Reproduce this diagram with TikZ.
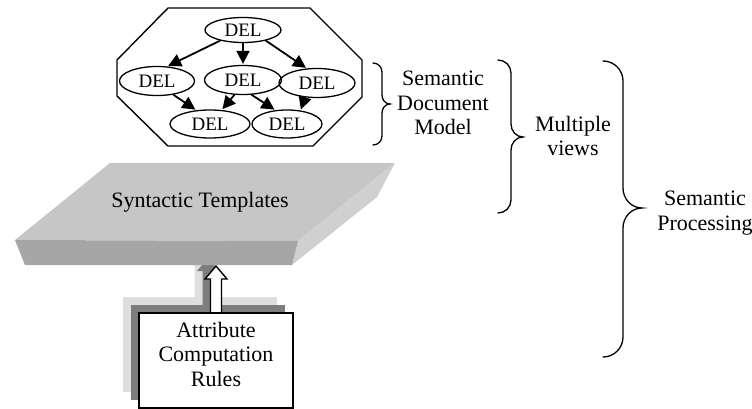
\documentclass[tikz,border=0pt]{standalone}
\usepackage{fontspec}
\setmainfont{Liberation Serif}
\usetikzlibrary{shapes.geometric,arrows.meta}
\definecolor{slabtop}{RGB}{198,198,198}
\definecolor{slabfront}{RGB}{166,166,166}
\definecolor{slabside}{RGB}{208,208,208}
\definecolor{shlight}{RGB}{222,222,222}
\definecolor{shdark}{RGB}{125,125,125}
\begin{document}
\begin{tikzpicture}[x=1pt,y=-1pt,
  del/.style={ellipse,draw,line width=1.3pt,inner sep=0pt,minimum height=29pt,font=\fontsize{19}{21}\selectfont},
  darr/.style={-{Triangle[length=13pt,width=13pt]},line width=1.8pt,shorten >=1pt,shorten <=0pt},
  lbl/.style={align=center,font=\fontsize{22}{24.5}\selectfont,inner sep=0pt},
  brc/.style={line width=1.3pt,line cap=round},
  outl/.style={line width=1.4pt,line join=miter}
]
\useasboundingbox (0,0) rectangle (752,409);
% octagon container
\draw[outl] (168,8) -- (310,8) -- (362,60) -- (362,97) -- (313,146) -- (168,146) -- (117,96) -- (117,60) -- cycle;
% DEL nodes
\node[del,minimum width=76pt,minimum height=25pt] (t) at (243,30) {DEL};
\node[del,minimum width=75pt] (l) at (157,81) {DEL};
\node[del,minimum width=77pt] (m) at (243,80) {DEL};
\node[del,minimum width=76pt] (r) at (317,83) {DEL};
\node[del,minimum width=80pt,minimum height=28pt] (bl) at (210,124) {DEL};
\node[del,minimum width=70pt,minimum height=28pt] (br) at (287,124) {DEL};
\draw[darr] (t.205) -- (l.55);
\draw[darr] (t.south) -- (m.north);
\draw[darr] (t.-25) -- (r.125);
\draw[darr] (l.-40) -- (bl.135);
\draw[darr] (m.-120) -- (bl.50);
\draw[darr] (m.-60) -- (br.130);
\draw[darr] (r.-130) -- (br.45);
% attribute box and its shadows
\coordinate (atip) at (216,266);
\foreach \d/\c in {16/shlight,8/shdark}{
  \fill[\c] (139-\d,313-\d) rectangle (293-\d,408-\d);
  \fill[\c] (210.5-\d,313-\d) -- (210.5-\d,279-\d) -- (205-\d,279-\d) -- (216-\d,266-\d) -- (227-\d,279-\d) -- (221.5-\d,279-\d) -- (221.5-\d,313-\d) -- cycle;
}
\draw[outl,fill=white] (210.5,314) -- (210.5,279) -- (205,279) -- (atip) -- (227,279) -- (221.5,279) -- (221.5,314);
\node[draw,fill=white,line width=1.5pt,minimum width=154pt,minimum height=95pt,inner sep=0pt] (acr) at (216,360.5) {};
\node[lbl] (acrtext) at (216,354) {Attribute\\Computation\\Rules};
% slab (Syntactic Templates)
\fill[slabtop] (110,163) -- (395,163) -- (298,241) -- (15,240) -- cycle;
\fill[slabside] (395,163) -- (377,197) -- (292,265) -- (298,241) -- cycle;
\fill[slabfront] (15,240) -- (298,241) -- (292,265) -- (25,265) -- cycle;
\node[lbl] (st) at (200,202) {Syntactic Templates};
% braces
\draw[brc] (373,63) to[out=0,in=90] (382,72) -- (382,95) to[out=-90,in=180] (390,104) to[out=180,in=90] (382,113) -- (382,136) to[out=-90,in=0] (373,145);
\draw[brc] (498,60) to[out=0,in=90] (511,73) -- (511,124) to[out=-90,in=180] (523,137) to[out=180,in=90] (511,150) -- (511,200) to[out=-90,in=0] (498,213);
\draw[brc] (603,61) to[out=0,in=90] (623,81) -- (623,188) to[out=-90,in=180] (642,208) to[out=180,in=90] (623,228) -- (623,337) to[out=-90,in=0] (603,357);
\node[lbl] (sdm) at (443,103) {Semantic\\Document\\Model};
\node[lbl] (mv) at (573,136) {Multiple\\views};
\node[lbl] (sp) at (705,213) {Semantic\\Processing};
\end{tikzpicture}
\end{document}
